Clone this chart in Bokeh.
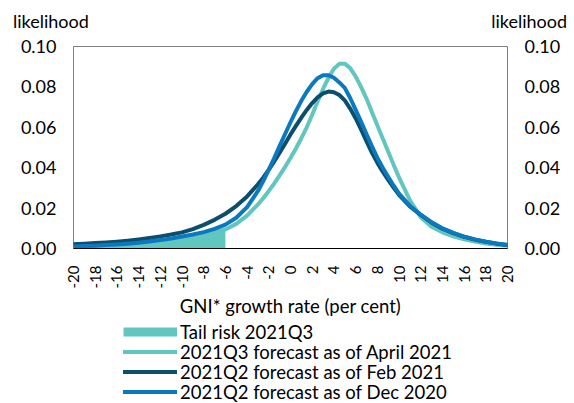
from bokeh.plotting import figure
from bokeh.layouts import column
from bokeh.models import (Range1d, LinearAxis, FixedTicker, Legend, LegendItem,
                          Div, Title, ColumnDataSource, NumeralTickFormatter)
from bokeh.embed import file_html
from bokeh.resources import INLINE
import math

# ---------------- data ----------------
growth = [-20, -19, -18, -17, -16, -15, -14, -13, -12, -11, -10, -9, -8, -7, -6, -5, -4, -3,
          -2.5, -2, -1.5, -1, -0.5, 0, 0.5, 1, 1.5, 2, 2.5, 3, 3.5, 4, 4.5, 5, 5.5, 6, 6.5,
          7, 7.5, 8, 8.5, 9, 9.5, 10, 11, 12, 13, 14, 15, 16, 17, 18, 19, 20]

q3_apr2021 = [0.0008, 0.0009, 0.0011, 0.0013, 0.0015, 0.0018, 0.0021, 0.0026, 0.0032, 0.0040,
              0.0049, 0.0059, 0.0070, 0.0081, 0.0094, 0.0122, 0.0163, 0.0218,
              0.0250, 0.0285, 0.0322, 0.0362, 0.0404, 0.0448, 0.0495, 0.0546, 0.0600, 0.0662,
              0.0728, 0.0790, 0.0845, 0.0890, 0.0914, 0.0915, 0.0893, 0.0852, 0.0800,
              0.0742, 0.0676, 0.0610, 0.0545, 0.0480, 0.0415, 0.0352,
              0.0240, 0.0155, 0.0108, 0.0080, 0.0060, 0.0045, 0.0034, 0.0025, 0.0018, 0.0013]

q2_feb2021 = [0.0021, 0.0024, 0.0027, 0.0030, 0.0034, 0.0039, 0.0045, 0.0052, 0.0060, 0.0069,
              0.0080, 0.0096, 0.0117, 0.0142, 0.0172, 0.0210, 0.0258, 0.0318,
              0.0352, 0.0390, 0.0431, 0.0474, 0.0519, 0.0564, 0.0607, 0.0648, 0.0686, 0.0720,
              0.0748, 0.0768, 0.0777, 0.0774, 0.0760, 0.0733, 0.0693, 0.0645, 0.0590,
              0.0532, 0.0475, 0.0425, 0.0380, 0.0340, 0.0302, 0.0266,
              0.0208, 0.0166, 0.0128, 0.0098, 0.0076, 0.0058, 0.0044, 0.0033, 0.0024, 0.0017]

q2_dec2020 = [0.0010, 0.0012, 0.0014, 0.0017, 0.0020, 0.0024, 0.0029, 0.0035, 0.0042, 0.0050,
              0.0059, 0.0069, 0.0081, 0.0097, 0.0118, 0.0152, 0.0205, 0.0285,
              0.0335, 0.0390, 0.0448, 0.0508, 0.0567, 0.0625, 0.0680, 0.0731, 0.0776, 0.0814,
              0.0843, 0.0858, 0.0858, 0.0845, 0.0822, 0.0795, 0.0745, 0.0688, 0.0628,
              0.0567, 0.0507, 0.0450, 0.0400, 0.0355, 0.0312, 0.0272,
              0.0212, 0.0168, 0.0130, 0.0100, 0.0077, 0.0059, 0.0045, 0.0034, 0.0025, 0.0017]

tail_cutoff = -6
x_ticks = list(range(-20, 21, 2))
y_ticks = [0.0, 0.02, 0.04, 0.06, 0.08, 0.10]

y_caption = "likelihood"
x_title = "GNI* growth rate (per cent)"
labels = ["Tail risk 2021Q3",
          "2021Q3 forecast as of April 2021",
          "2021Q2 forecast as of Feb 2021",
          "2021Q2 forecast as of Dec 2020"]

# ---------------- styling ----------------
TEAL = "#62C6C0"
DARK = "#0B4F6C"
BLUE = "#0A79BF"
FONT = "Lato"
W = 574
TOP_H = 36
LEG_H = 81

# ---- caption strip: the two "likelihood" captions over the value axes ----
cap_style = ("position:absolute;top:11px;font-family:Lato;font-size:18px;"
             "line-height:1.2;color:black;white-space:nowrap;")
top = Div(text=(f'<div style="position:relative;width:{W}px;height:{TOP_H}px;">'
                f'<span style="{cap_style}left:13px;">{y_caption}</span>'
                f'<span style="{cap_style}right:7px;">{y_caption}</span></div>'),
          width=W, height=TOP_H, margin=(0, 0, 0, 0))

# ---- main chart ----
src = ColumnDataSource(dict(x=growth, apr=q3_apr2021, feb=q2_feb2021, dec=q2_dec2020))
tail_x = [g for g in growth if g <= tail_cutoff]
tail_y = [v for g, v in zip(growth, q3_apr2021) if g <= tail_cutoff]
tail_src = ColumnDataSource(dict(x=tail_x, y=tail_y))

p = figure(frame_width=434, frame_height=202, output_backend="svg", toolbar_location=None,
           x_range=Range1d(-20, 20), y_range=Range1d(0, 0.10),
           min_border_left=73, min_border_right=67, min_border_top=10, min_border_bottom=74)
p.outline_line_color = "#7F7F7F"
p.outline_line_width = 1
p.xgrid.visible = False
p.ygrid.visible = False

p.varea(x="x", y1=0, y2="y", source=tail_src, fill_color=TEAL, fill_alpha=1)
p.line("x", "apr", source=src, line_color=TEAL, line_width=4, line_cap="round", line_join="round")
p.line("x", "feb", source=src, line_color=DARK, line_width=4, line_cap="round", line_join="round")
p.line("x", "dec", source=src, line_color=BLUE, line_width=4, line_cap="round", line_join="round")

xa = p.xaxis[0]
xa.ticker = FixedTicker(ticks=x_ticks)
xa.formatter = NumeralTickFormatter(format="0")
xa.major_label_orientation = math.pi / 2
xa.major_tick_in = 0
xa.major_tick_out = 0
xa.minor_tick_in = 0
xa.minor_tick_out = 0
xa.axis_line_color = "black"
xa.major_label_standoff = 17
xa.major_label_text_font = FONT
xa.major_label_text_font_size = "15px"
xa.major_label_text_color = "black"

p.add_layout(Title(text=x_title, align="center", offset=11, standoff=2,
                   text_font=FONT, text_font_size="18.5px", text_font_style="normal",
                   text_color="black"), "below")

def style_y(ax):
    ax.ticker = FixedTicker(ticks=y_ticks)
    ax.formatter = NumeralTickFormatter(format="0.00")
    ax.major_tick_in = 0
    ax.major_tick_out = 0
    ax.minor_tick_in = 0
    ax.minor_tick_out = 0
    ax.axis_line_color = None
    ax.major_label_standoff = 17
    ax.major_label_text_font = FONT
    ax.major_label_text_font_size = "18px"
    ax.major_label_text_color = "black"

style_y(p.yaxis[0])
ry = LinearAxis()
style_y(ry)
p.add_layout(ry, "right")

# ---- legend strip (its frame is aligned with the chart frame by the column layout) ----
leg = figure(width=W, height=LEG_H, x_range=Range1d(-20, 20), y_range=Range1d(0, 0.10),
             x_axis_type=None, y_axis_type=None,
             min_border_left=73, min_border_right=67, min_border_top=0, min_border_bottom=0,
             toolbar_location=None, output_backend="svg")
leg.outline_line_color = None
leg.grid.visible = False
# renderers kept hidden here: they only supply the legend swatches
sw_tail = leg.line(x="x", y="y", source=tail_src, line_color=TEAL, line_width=9,
                   line_cap="butt", visible=False)
sw_apr = leg.line("x", "apr", source=src, line_color=TEAL, line_width=4, line_cap="round", visible=False)
sw_feb = leg.line("x", "feb", source=src, line_color=DARK, line_width=4, line_cap="round", visible=False)
sw_dec = leg.line("x", "dec", source=src, line_color=BLUE, line_width=4, line_cap="round", visible=False)

row_bottoms = [59, 39, 19, -1]
for lab, rnd, yb in zip(labels, [sw_tail, sw_apr, sw_feb, sw_dec], row_bottoms):
    lg = Legend(items=[LegendItem(label=lab, renderers=[rnd])],
                location=(50, yb), orientation="vertical",
                margin=0, padding=0, spacing=0,
                glyph_width=54, glyph_height=25, label_height=25,
                label_standoff=3, label_text_font=FONT, label_text_font_size="18.5px",
                label_text_color="black",
                border_line_color=None, background_fill_alpha=0)
    leg.add_layout(lg, "center")

layout = column(top, p, leg, spacing=0)
open("out.html", "w").write(file_html(layout, INLINE))
